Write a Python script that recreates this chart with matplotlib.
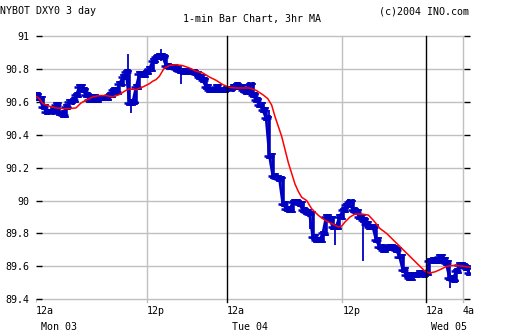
import numpy as np
import matplotlib
matplotlib.use("Agg")
import matplotlib.pyplot as plt

# 1-min bars sampled every ~21.6 min of trading time (0.36 h)
STEP = 0.36
price = [
    90.64, 90.62, 90.57, 90.54, 90.54, 90.55, 90.58, 90.53, 90.52, 90.57,
    90.60, 90.61, 90.64, 90.69, 90.67, 90.64, 90.61, 90.63, 90.61, 90.62,
    90.62, 90.62, 90.64, 90.67, 90.66, 90.71, 90.75, 90.78, 90.59, 90.60,
    90.69, 90.77, 90.76, 90.78, 90.80, 90.85, 90.87, 90.88, 90.87, 90.82,
    90.81, 90.81, 90.80, 90.79, 90.78, 90.79, 90.78, 90.78, 90.77, 90.75,
    90.73, 90.69, 90.67, 90.67, 90.69, 90.67, 90.67, 90.68, 90.68, 90.69,
    90.70, 90.69, 90.67, 90.66, 90.70, 90.64, 90.61, 90.58, 90.55, 90.50,
    90.27, 90.15, 90.14, 90.13, 89.98, 89.95, 89.94, 89.99, 89.99, 89.98,
    89.94, 89.93, 89.92, 89.78, 89.76, 89.76, 89.80, 89.90, 89.89, 89.84,
    89.84, 89.90, 89.94, 89.97, 89.99, 89.94, 89.93, 89.90, 89.88, 89.86,
    89.84, 89.84, 89.76, 89.72, 89.70, 89.71, 89.72, 89.71, 89.70, 89.66,
    89.58, 89.55, 89.53, 89.55, 89.55, 89.56, 89.55, 89.56, 89.63, 89.64,
    89.63, 89.66, 89.64, 89.62, 89.53, 89.52, 89.57, 89.61, 89.60, 89.59,
    89.56,
]

# single-bar spikes (bar position, low, high)
spike_pos = [27.5, 28.5, 37.5, 43.5, 69.8, 82.2, 89.7, 93.7, 98.2, 124.2]
spike_lo = [90.72, 90.53, 90.85, 90.71, 90.45, 89.83, 89.73, 89.95, 89.63, 89.47]
spike_hi = [90.89, 90.62, 90.92, 90.80, 90.55, 89.94, 89.86, 90.01, 89.90, 89.56]

# 3hr moving average (bar position, value)
ma_pos = [0, 1, 2, 4, 6, 8, 10, 12, 13.5, 15, 17, 19, 21, 23, 25, 27, 28, 30,
          32, 34, 35, 36, 37, 38.5, 40, 42, 44, 46, 48, 50, 52, 54, 56, 58,
          60, 62, 64, 66, 68, 69.5, 70.7, 71.7, 72.7, 73.7, 74.7, 75.7, 76.7,
          77.7, 78.7, 79.7, 81.2, 82.7, 84.7, 86.7, 88.7, 90.7, 91.7, 92.7,
          94.2, 95.7, 97.7, 99.7, 101.2, 103.2, 105.2, 107.2, 109.2, 111.2,
          113.2, 115.2, 116.7, 118.2, 119.7, 121.2, 123.2, 125.2, 127.2,
          129.2, 130.2]
ma_val = [90.634, 90.62, 90.59, 90.573, 90.563, 90.559, 90.559, 90.563,
          90.593, 90.61, 90.63, 90.638, 90.638, 90.63, 90.644, 90.67, 90.678,
          90.674, 90.69, 90.71, 90.725, 90.735, 90.755, 90.806, 90.82,
          90.826, 90.82, 90.806, 90.786, 90.776, 90.751, 90.731, 90.705,
          90.688, 90.684, 90.684, 90.684, 90.67, 90.644, 90.62, 90.58, 90.51,
          90.45, 90.39, 90.31, 90.23, 90.165, 90.10, 90.055, 90.02, 90.0,
          89.95, 89.91, 89.88, 89.86, 89.84, 89.845, 89.87, 89.90, 89.918,
          89.918, 89.912, 89.88, 89.83, 89.80, 89.76, 89.72, 89.68, 89.64,
          89.60, 89.57, 89.56, 89.567, 89.58, 89.60, 89.606, 89.603, 89.598,
          89.595]

yticks = [89.4, 89.6, 89.8, 90, 90.2, 90.4, 90.6, 90.8, 91]
ytick_labels = ["89.4", "89.6", "89.8", "90", "90.2", "90.4", "90.6", "90.8", "91"]
xticks = [0, 12, 20.65, 33.1, 42.1, 46.1]
xtick_labels = ["12a", "12p", "12a", "12p", "12a", "4a"]
day_ticks = [0, 20.65, 42.1]
day_labels = ["Mon 03", "Tue 04", "Wed 05"]

BLUE = "#0000c0"
GRID = "#c0c0c0"
FONT = "DejaVu Sans Mono"

fig = plt.figure(figsize=(5.12, 3.35), dpi=100)
ax = fig.add_axes([36 / 512, 35.7 / 335, 434 / 512, 263.3 / 335])
ax.set_xlim(0, 46.87)
ax.set_ylim(89.4, 91)
for s in ax.spines.values():
    s.set_visible(False)

# grid
for y in yticks:
    ax.axhline(y, xmin=5 / 434, xmax=427 / 434, color=GRID, lw=1, clip_on=False, zorder=1)
for x in xticks:
    if x in day_ticks:
        continue
    ax.plot([x, x], [89.4 - 0.015, 91], color=GRID, lw=1, clip_on=False, zorder=1)
for x in day_ticks[1:]:
    ax.plot([x, x], [89.4 - 0.015, 91], color="black", lw=1, clip_on=False, zorder=4)

# price bars
x = np.arange(len(price)) * STEP
p = np.array(price)
prev = np.r_[p[0], p[:-1]]
lo = np.minimum(prev, p) - 0.018
hi = np.maximum(prev, p) + 0.018
ax.vlines(x, lo, hi, color=BLUE, lw=2.6, zorder=2)
ax.plot(x, p, color=BLUE, lw=1.8, marker="_", ms=7, mew=1.8, zorder=2)
ax.plot(x, lo + 0.008, ls="none", color=BLUE, marker="_", ms=5, mew=1.2, zorder=2)
ax.plot(x, hi - 0.008, ls="none", color=BLUE, marker="_", ms=5, mew=1.2, zorder=2)
ax.vlines(np.array(spike_pos) * STEP, spike_lo, spike_hi, color=BLUE, lw=1.3, zorder=2)

# moving average
ax.plot(np.array(ma_pos) * STEP, ma_val, color="red", lw=1.1, zorder=3)

# y axis ticks on both sides
ax.set_yticks(yticks, ytick_labels)
ax.tick_params(axis="y", which="both", direction="in", length=4, width=1,
               color="black", pad=5, left=True, right=True, labelsize=7.2)
for lab in ax.get_yticklabels():
    lab.set_fontfamily(FONT)

ax.set_xticks(xticks, xtick_labels)
ax.tick_params(axis="x", direction="out", length=2, color=GRID, pad=3, labelsize=7.2)
for lab in ax.get_xticklabels():
    lab.set_fontfamily(FONT)
    lab.set_ha("left")

for xd, lab in zip(day_ticks, day_labels):
    ax.text(xd + 0.55, -0.104, lab, transform=ax.get_xaxis_transform(),
            ha="left", va="center", fontsize=7.2, family=FONT)

fig.text(0, 1 - 11 / 335, "NYBOT DXY0 3 day", ha="left", va="center",
         fontsize=7.2, family=FONT)
fig.text(252 / 512, 1 - 19 / 335, "1-min Bar Chart, 3hr MA", ha="center",
         va="center", fontsize=7.2, family=FONT)
fig.text(469 / 512, 1 - 11 / 335, "(c)2004 INO.com", ha="right", va="center",
         fontsize=7.2, family=FONT)

fig.savefig("out.png", dpi=100, facecolor="white")
